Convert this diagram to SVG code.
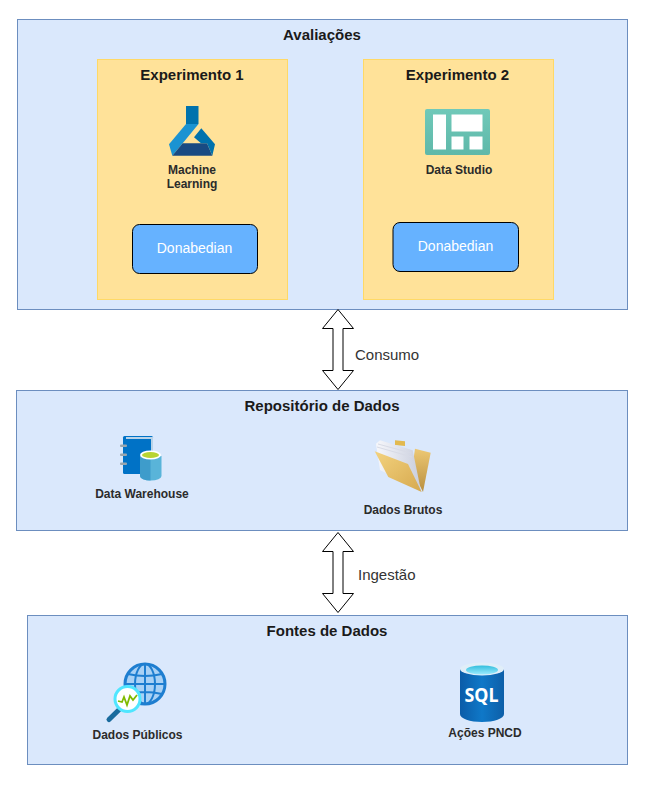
<svg xmlns="http://www.w3.org/2000/svg" width="648" height="791" viewBox="0 0 648 791">
<defs>
<linearGradient id="cyl" x1="0" x2="1" y1="0" y2="0"><stop offset="0" stop-color="#0b5ca8"/><stop offset="0.5" stop-color="#0f78c8"/><stop offset="1" stop-color="#0d5fa8"/></linearGradient>
<linearGradient id="cyan" x1="0" x2="0" y1="0" y2="1"><stop offset="0" stop-color="#32bedd"/><stop offset="1" stop-color="#9cebff"/></linearGradient>
<linearGradient id="sq" x1="0" x2="0" y1="0" y2="1"><stop offset="0" stop-color="#70c9b9"/><stop offset="1" stop-color="#5fb8a9"/></linearGradient>
<linearGradient id="fold" x1="0" x2="1" y1="0" y2="1"><stop offset="0" stop-color="#f3d27e"/><stop offset="1" stop-color="#d6a94f"/></linearGradient>
<linearGradient id="back" x1="0" x2="0" y1="0" y2="1"><stop offset="0" stop-color="#edc873"/><stop offset="1" stop-color="#b98f3f"/></linearGradient>
<linearGradient id="paper" x1="0" x2="1" y1="0" y2="0"><stop offset="0" stop-color="#f6f7fb"/><stop offset="1" stop-color="#c9cedd"/></linearGradient>
</defs>
<style>
text{font-family:"Liberation Sans",Arial,sans-serif;text-anchor:middle;fill:#1a1a1a}
.lane{fill:#dae8fc;stroke:#6c8ebf;stroke-width:1}
.exp{fill:#ffe299;stroke:#ffd966;stroke-width:1}
.title{font-size:15px;font-weight:bold}
.lbl{font-size:12px;font-weight:bold;fill:#2b2b2b}
.don{fill:#66b2ff;stroke:#000;stroke-width:1}
.dont{font-size:14px;fill:#fff}
.arrow{fill:#fff;stroke:#000;stroke-width:1;stroke-linejoin:miter}
.edge{font-size:15px;text-anchor:start;fill:#333}
</style>
<rect width="648" height="791" fill="#fff"/>
<g id="avaliacoes">
<rect class="lane" x="17.500" y="19.500" width="610" height="290"/>
<text class="title" x="322" y="40">Avaliações</text>
</g>
<g id="experimento1">
<rect class="exp" x="97.500" y="59.500" width="190" height="240"/>
<text class="title" x="192" y="80">Experimento 1</text>
</g>
<g id="experimento2">
<rect class="exp" x="363.500" y="59.500" width="190" height="240"/>
<text class="title" x="457.500" y="80">Experimento 2</text>
</g>
<g id="machine-learning">
<rect x="186" y="106" width="12.500" height="18" fill="#0072ad"/>
<path d="M186 124H198.500L182.700 143.300L172.300 155.700L169 144.300Z" fill="#1b93d2"/>
<path d="M182.700 143.300H207L212.300 155.700H172.300Z" fill="#194a82"/>
<path d="M201.300 128.300L215 144.300L212.300 155.700L207 143.300H201L194 137.300Z" fill="#0072ad"/>
<text class="lbl" x="192" y="174">Machine</text>
<text class="lbl" x="192" y="188">Learning</text>
</g>
<g id="data-studio">
<rect x="425" y="109" width="65" height="46" rx="2" fill="url(#sq)"/>
<rect x="433" y="114.500" width="13" height="35" fill="#fff"/>
<rect x="451.500" y="114.500" width="31" height="17" fill="#fff"/>
<rect x="451.500" y="136.500" width="12" height="13" fill="#fff"/>
<rect x="469.500" y="136.500" width="13" height="13" fill="#fff"/>
<text class="lbl" x="459" y="174">Data Studio</text>
</g>
<g id="donabedian1">
<rect class="don" x="132.500" y="224.500" width="125" height="49" rx="7"/>
<text class="dont" x="194.500" y="253">Donabedian</text>
</g>
<g id="donabedian2">
<rect class="don" x="393" y="222.500" width="125.500" height="49" rx="7"/>
<text class="dont" x="455.500" y="251">Donabedian</text>
</g>
<g id="repositorio">
<rect class="lane" x="16.500" y="390.500" width="611" height="140"/>
<text class="title" x="322" y="411">Repositório de Dados</text>
</g>
<g id="data-warehouse">
<rect x="123" y="436" width="30" height="38" rx="1.500" fill="#0072c6"/>
<path d="M126 438H152V453" fill="none" stroke="#b9d3e8" stroke-width="2"/>
<g fill="#9aa5ad"><rect x="120" y="444.500" width="7" height="2.500" rx="1"/><rect x="120" y="453.500" width="7" height="2.500" rx="1"/><rect x="120" y="462.500" width="7" height="2.500" rx="1"/></g>
<path d="M140 456V476A10.500 4.500 0 0 0 161.500 476V456Z" fill="#59b4d9"/>
<path d="M140 456V476A10.500 4.500 0 0 0 150.500 480.500V456Z" fill="#3e9ccb"/>
<ellipse cx="150.500" cy="455" rx="10.500" ry="4.500" fill="#fff"/>
<ellipse cx="150.500" cy="455" rx="8.500" ry="3" fill="#b8d432"/>
<text class="lbl" x="142" y="498">Data Warehouse</text>
</g>
<g id="dados-brutos">
<path d="M395 440.300L405 441.300V446L395 445Z" fill="#e2b94f"/>
<path d="M415 448.700L430.700 452.700L423 492L412 470Z" fill="url(#back)"/>
<path d="M376 443.700L380 440.300L412.700 450.300L421 491L380 470Z" fill="url(#paper)"/>
<path d="M378 444L411 453M377 447L412 457" fill="none" stroke="#d8dbe6" stroke-width="1"/>
<path d="M374.700 451.300L408 464L421.700 492L388.300 477Z" fill="url(#fold)"/>
<text class="lbl" x="403" y="514">Dados Brutos</text>
</g>
<g id="fontes">
<rect class="lane" x="27.500" y="615.500" width="600" height="149"/>
<text class="title" x="327" y="636">Fontes de Dados</text>
</g>
<g id="dados-publicos">
<circle cx="145" cy="684" r="20" fill="#a9d1f5" stroke="#1e7ed0" stroke-width="3"/>
<g fill="none" stroke="#1e7ed0" stroke-width="2"><ellipse cx="145" cy="684" rx="10" ry="20"/><path d="M145 664V704M128 674Q145 678 162 674M125 684H165M128 694Q145 690 162 694"/></g>
<path d="M109 719.500L119 709.700" stroke="#1a6b9e" stroke-width="5" stroke-linecap="round"/>
<circle cx="127.500" cy="699" r="12.500" fill="#fff" stroke="#50e6ff" stroke-width="3"/>
<path d="M118 701L122 702L124 697L127 705L130 696L133 700L137 695" fill="none" stroke="#7fba00" stroke-width="1.800"/>
<text class="lbl" x="137.500" y="739">Dados Públicos</text>
</g>
<g id="acoes-pncd">
<path d="M460 669V714C460 718.500 470 722 482 722C494 722 504 718.500 504 714V669Z" fill="url(#cyl)"/>
<ellipse cx="482" cy="669" rx="22" ry="6.500" fill="#e0eef8"/>
<ellipse cx="482" cy="670" rx="16" ry="4.500" fill="url(#cyan)"/>
<text x="481.500" y="702" font-size="19" font-weight="bold" textLength="34" lengthAdjust="spacingAndGlyphs" style="fill:#fff;font-family:'Noto Sans','Liberation Sans',sans-serif">SQL</text>
<text class="lbl" x="485" y="737">Ações PNCD</text>
</g>
<g id="connectors">
<path class="arrow" d="M338 309.500L353.500 328.500H343V370.500H353.500L338 389.500L322.500 370.500H333V328.500H322.500Z"/>
<path class="arrow" d="M338 532.500L353.500 551.500H343V593.500H353.500L338 612.500L322.500 593.500H333V551.500H322.500Z"/>
<text class="edge" x="355" y="360">Consumo</text>
<text class="edge" x="358" y="580">Ingestão</text>
</g>
</svg>
